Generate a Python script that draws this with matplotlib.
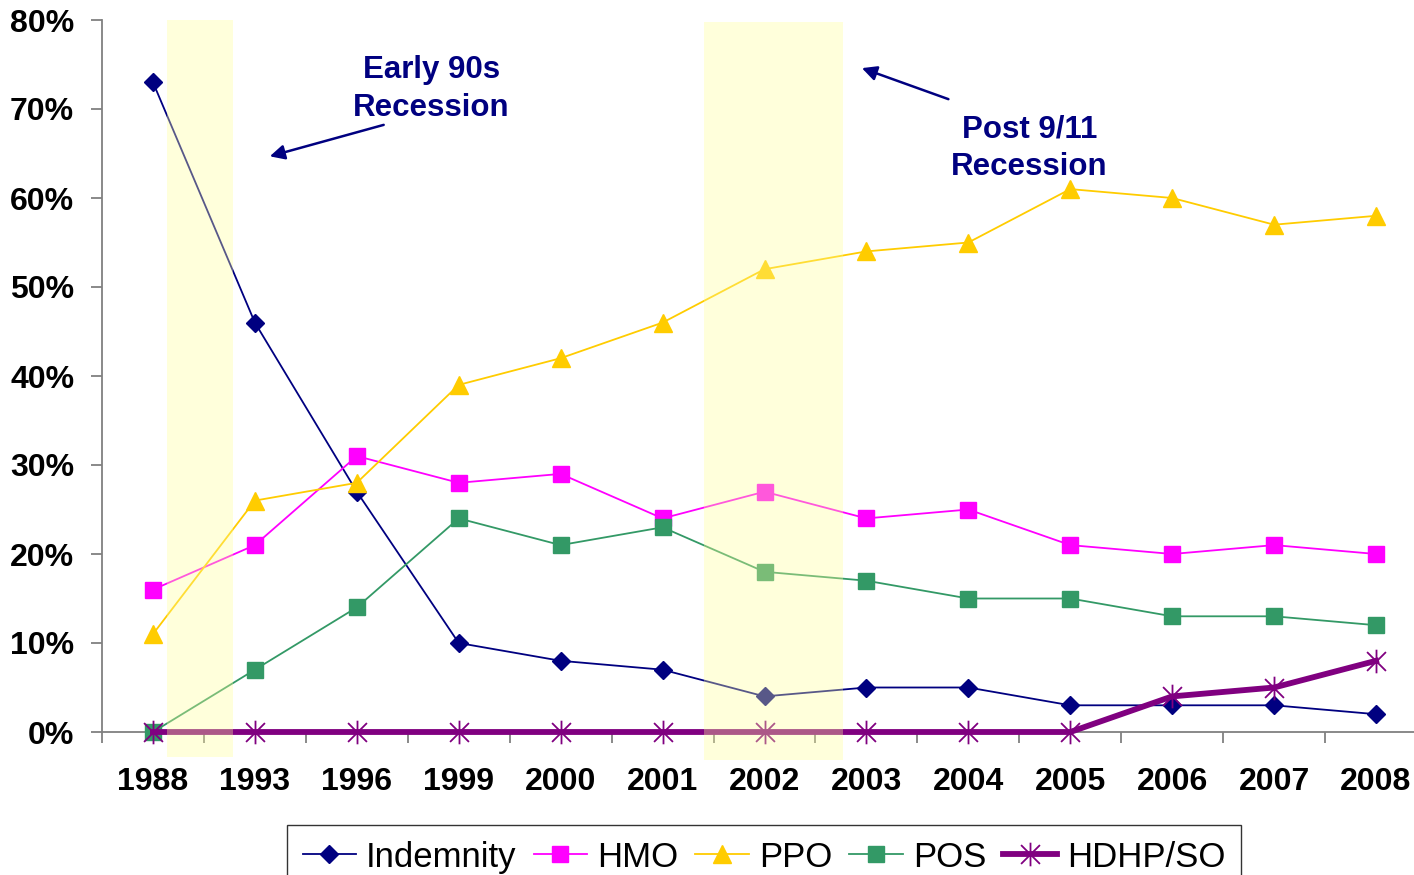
import matplotlib
matplotlib.use("Agg")
import matplotlib.pyplot as plt
from matplotlib.path import Path
from matplotlib.patches import Rectangle
from matplotlib.ticker import FixedLocator, FuncFormatter

plt.rcParams['font.family'] = ['Liberation Sans', 'DejaVu Sans']

years = ["1988", "1993", "1996", "1999", "2000", "2001", "2002",
         "2003", "2004", "2005", "2006", "2007", "2008"]
indemnity = [73, 46, 27, 10, 8, 7, 4, 5, 5, 3, 3, 3, 2]
hmo = [16, 21, 31, 28, 29, 24, 27, 24, 25, 21, 20, 21, 20]
ppo = [11, 26, 28, 39, 42, 46, 52, 54, 55, 61, 60, 57, 58]
pos = [0, 7, 14, 24, 21, 23, 18, 17, 15, 15, 13, 13, 12]
hdhp = [0, 0, 0, 0, 0, 0, 0, 0, 0, 0, 4, 5, 8]

# recession shading, in category units (x0, x1) and percent (y0, y1)
recessions = [(0.14, 0.79, -2.8, 80.0), (5.41, 6.77, -3.1, 79.8)]

NAVY = "#000080"

# asterisk: vertical stroke plus an X
star = Path([(0, -1), (0, 1), (-0.8, -0.8), (0.8, 0.8), (-0.8, 0.8), (0.8, -0.8)],
            [Path.MOVETO, Path.LINETO, Path.MOVETO, Path.LINETO, Path.MOVETO, Path.LINETO])

fig = plt.figure(figsize=(14.14, 8.75), dpi=100)
ax = fig.add_axes([102 / 1414, 143 / 875, 1325 / 1414, 712 / 875])

x = list(range(len(years)))
common = dict(lw=1.3, clip_on=False)
ax.plot(x, indemnity, color=NAVY, marker="D", ms=9.5, label="Indemnity", zorder=3, **common)
ax.plot(x, hmo, color="#FF00FF", marker="s", ms=11, label="HMO", zorder=3, **common)
ax.plot(x, ppo, color="#FFCC00", marker="^", ms=12.5, label="PPO", zorder=3, **common)
ax.plot(x, pos, color="#339966", marker="s", ms=11, label="POS", zorder=3, **common)
ax.plot(x, hdhp, color="#800080", lw=4.2, marker=star, ms=17, mew=1.3,
        label="HDHP/SO", zorder=4, clip_on=False)

for x0, x1, y0, y1 in recessions:
    ax.add_patch(Rectangle((x0, y0), x1 - x0, y1 - y0, facecolor="#FFFF99",
                           edgecolor="none", alpha=0.35, zorder=5, clip_on=False))

ax.set_xlim(-0.5, 12.5)
ax.set_ylim(0, 80)

for side in ("top", "right"):
    ax.spines[side].set_visible(False)
for side in ("left", "bottom"):
    ax.spines[side].set_color("#808080")
    ax.spines[side].set_linewidth(1.3)

ax.set_yticks(range(0, 81, 10))
ax.yaxis.set_major_formatter(FuncFormatter(lambda v, p: f"{v:.0f}%"))
ax.tick_params(axis="y", length=8, width=1.3, color="#808080", pad=12,
               labelsize=23)
ax.set_xticks(x)
ax.set_xticklabels(years)
ax.xaxis.set_minor_locator(FixedLocator([i + 0.5 for i in range(-1, 13)]))
ax.tick_params(axis="x", which="major", length=0, pad=25, labelsize=23)
ax.tick_params(axis="x", which="minor", length=8, width=1.3, color="#808080")
for lbl in ax.get_xticklabels() + ax.get_yticklabels():
    lbl.set_fontweight("bold")

# recession callouts
note = dict(color=NAVY, fontsize=22.5, fontweight="bold", ha="center",
            va="center", linespacing=1.35)
arrow = dict(arrowstyle="-|>", color=NAVY, lw=1.8, mutation_scale=22)
ax.text(2.73, 72.3, "Early 90s\nRecession", **note)
ax.annotate("", xy=(1.12, 64.6), xytext=(2.29, 68.3), arrowprops=arrow)
ax.text(8.6, 65.6, "Post 9/11\nRecession", **note)
ax.annotate("", xy=(6.93, 74.7), xytext=(7.83, 71.0), arrowprops=arrow)

leg = fig.legend(loc="upper left", bbox_to_anchor=(287 / 1414, 1 - 825 / 875),
                 ncol=5, fontsize=25, frameon=True, fancybox=False,
                 handlelength=1.54, handletextpad=0.29, columnspacing=0.49,
                 borderpad=0.45, borderaxespad=0)
leg.get_frame().set_edgecolor("black")
leg.get_frame().set_linewidth(1.0)

fig.savefig("out.png", dpi=100)
